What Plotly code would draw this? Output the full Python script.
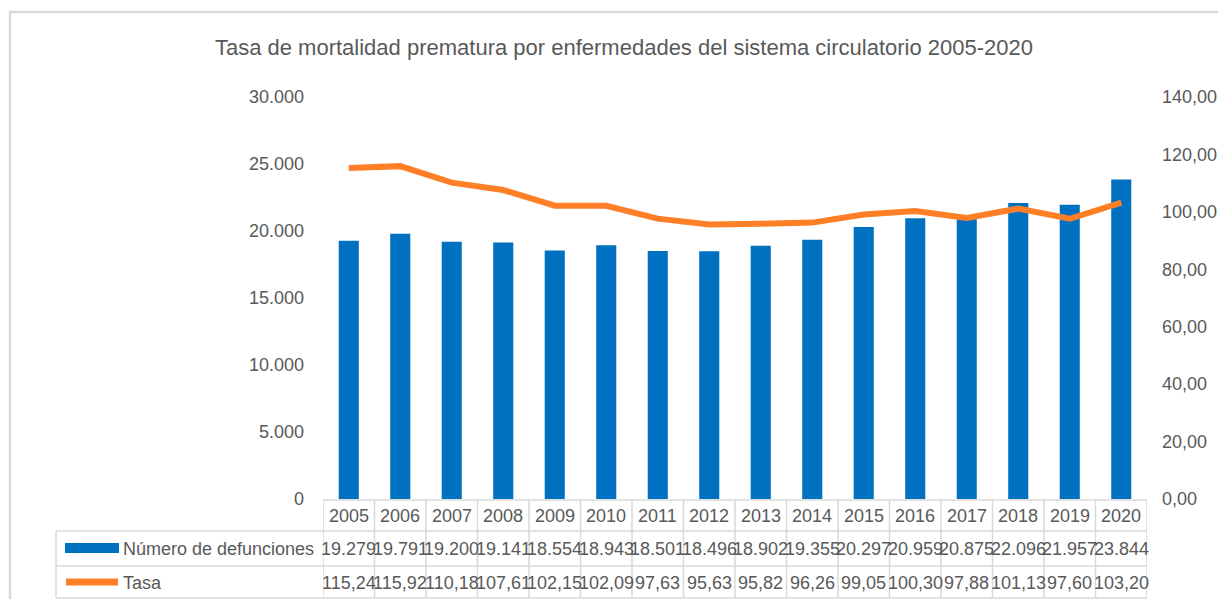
import plotly.graph_objects as go

years = ["2005", "2006", "2007", "2008", "2009", "2010", "2011", "2012",
         "2013", "2014", "2015", "2016", "2017", "2018", "2019", "2020"]
defunciones = [19279, 19791, 19200, 19141, 18554, 18943, 18501, 18496,
               18902, 19355, 20297, 20959, 20875, 22096, 21957, 23844]
tasa = [115.24, 115.92, 110.18, 107.61, 102.15, 102.09, 97.63, 95.63,
        95.82, 96.26, 99.05, 100.30, 97.88, 101.13, 97.60, 103.20]

TITLE = "Tasa de mortalidad prematura por enfermedades del sistema circulatorio 2005-2020"
BLUE = "#0070C0"
ORANGE = "#FF7F27"
GRAY = "#595959"
BORDER = "#D9D9D9"
FONT = "Liberation Sans, Arial, sans-serif"

OFF = 8  # page body margin in the browser
W, H = 1226 - 2 * OFF, 607 - 2 * OFF
# plot area in screen pixels
SL, SR, ST, SB = 323, 1147, 97, 499
L, R, T, B = SL - OFF, SR - OFF, ST - OFF, SB - OFF


def px(p):
    return (p - SL) / (SR - SL)


def py(p):
    return (SB - p) / (SB - ST)


fig = go.Figure()
fig.add_trace(go.Bar(x=list(range(len(years))), y=defunciones, name="Número de defunciones",
                     marker=dict(color=BLUE, line=dict(width=0)), width=0.39, yaxis="y"))
fig.add_trace(go.Scatter(x=list(range(len(years))), y=tasa, name="Tasa", mode="lines",
                         line=dict(color=ORANGE, width=6), yaxis="y2"))

fmt_def = [f"{v:,}".replace(",", ".") for v in defunciones]
fmt_tasa = [f"{v:.2f}".replace(".", ",") for v in tasa]

TF = dict(size=18, color=GRAY, family=FONT)
ann = []
rows_y = [py(515.5), py(548.5), py(583)]
for i, yr in enumerate(years):
    ann.append(dict(x=i, y=rows_y[0], xref="x", yref="paper", text=yr, showarrow=False,
                    font=TF, xanchor="center", yanchor="middle"))
    ann.append(dict(x=i, y=rows_y[1], xref="x", yref="paper", text=fmt_def[i], showarrow=False,
                    font=TF, xanchor="center", yanchor="middle"))
    ann.append(dict(x=i, y=rows_y[2], xref="x", yref="paper", text=fmt_tasa[i], showarrow=False,
                    font=TF, xanchor="center", yanchor="middle"))
ann.append(dict(x=px(121), y=rows_y[1], xref="paper", yref="paper", text="Número de defunciones",
                showarrow=False, font=TF, xanchor="left", yanchor="middle"))
ann.append(dict(x=px(121), y=rows_y[2], xref="paper", yref="paper", text="Tasa",
                showarrow=False, font=TF, xanchor="left", yanchor="middle"))

shapes = []
bl = dict(color=BORDER, width=1.5)
# outer chart frame
shapes.append(dict(type="rect", xref="paper", yref="paper", x0=px(10), x1=px(1240),
                   y0=py(620), y1=py(12), line=dict(color=BORDER, width=2.5), layer="below"))
# table horizontal lines
shapes.append(dict(type="line", xref="paper", yref="paper", x0=0, x1=1, y0=py(500), y1=py(500), line=bl))
for yy in (531, 566, 598):
    shapes.append(dict(type="line", xref="paper", yref="paper", x0=px(56), x1=1,
                       y0=py(yy), y1=py(yy), line=bl))
# left border of legend column
shapes.append(dict(type="line", xref="paper", yref="paper", x0=px(56), x1=px(56),
                   y0=py(531), y1=py(598), line=bl))
# vertical column lines
for k in range(len(years) + 1):
    shapes.append(dict(type="line", xref="x", yref="paper", x0=k - 0.5, x1=k - 0.5,
                       y0=py(500), y1=py(598), line=bl))
# legend keys
shapes.append(dict(type="rect", xref="paper", yref="paper", x0=px(65), x1=px(119),
                   y0=py(553), y1=py(543), fillcolor=BLUE, line=dict(width=0)))
shapes.append(dict(type="line", xref="paper", yref="paper", x0=px(66), x1=px(118),
                   y0=py(582), y1=py(582), line=dict(color=ORANGE, width=7)))

fig.update_layout(
    width=W, height=H,
    margin=dict(l=L, r=W - R, t=T, b=H - B, autoexpand=False),
    paper_bgcolor="white", plot_bgcolor="white",
    separators=",.",
    showlegend=False,
    title=dict(text=TITLE, x=(624 - OFF) / W, xref="container", xanchor="center",
               y=1 - (47 - OFF) / H, yref="container", yanchor="middle",
               font=dict(size=22, color=GRAY, family=FONT)),
    font=dict(family=FONT, color=GRAY, size=18),
    xaxis=dict(range=[-0.5, len(years) - 0.5], showticklabels=False, showgrid=False,
               zeroline=False, showline=False, ticks="", automargin=False),
    yaxis=dict(range=[0, 30000], dtick=5000, tickformat=",d", showgrid=False, zeroline=False,
               showline=False, ticks="", ticklabelstandoff=18, automargin=False,
               tickfont=dict(size=18, color=GRAY, family=FONT)),
    yaxis2=dict(range=[0, 140], dtick=20, tickformat=".2f", overlaying="y", side="right",
                showgrid=False, zeroline=False, showline=False, ticks="", automargin=False,
                ticklabelstandoff=14,
                tickfont=dict(size=18, color=GRAY, family=FONT)),
    annotations=ann,
    shapes=shapes,
)

fig.write_html("out.html")
